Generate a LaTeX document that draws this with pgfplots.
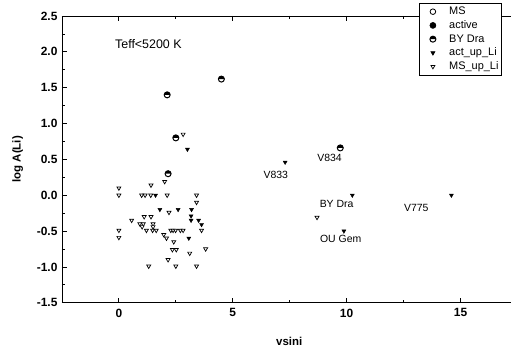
\documentclass[border=0pt]{standalone}
\usepackage{fontspec}
\setmainfont{Liberation Sans}
\usepackage{pgfplots}
\pgfplotsset{compat=1.18}
\pgfdeclareplotmark{halfo}{%
  \pgfpathmoveto{\pgfqpoint{\pgfplotmarksize}{0pt}}%
  \pgfpatharc{0}{180}{\pgfplotmarksize}%
  \pgfpathclose
  \pgfusepathqfill
  \pgfpathcircle{\pgfpointorigin}{\pgfplotmarksize}%
  \pgfusepathqstroke
}
\begin{document}
\begin{tikzpicture}
\begin{axis}[
  scale only axis,
  width=449bp, height=287bp,
  xmin=-2.5, xmax=17.2, ymin=-1.5, ymax=2.5,
  axis x line*=box, axis y line*=left,
  axis line style={line width=0.8bp},
  every tick/.style={line width=0.8bp, black},
  tick align=inside,
  major tick length=5bp, minor tick length=3bp,
  xtick={0,5,10,15}, minor x tick num=1,
  ytick={-1.5,-1,-0.5,0,0.5,1,1.5,2,2.5}, minor y tick num=1,
  xticklabel pos=lower,
  /pgf/number format/assume math mode=true,
  ticklabel style={font=\fontsize{12}{14}\selectfont\bfseries},
  xticklabel style={yshift=-2.5bp},
  yticklabel style={xshift=-1bp, /pgf/number format/.cd, fixed, fixed zerofill, precision=1},
  xlabel={\bfseries vsini}, ylabel={\bfseries log A(Li)},
  label style={font=\fontsize{11.5}{13}\selectfont},
  xlabel style={yshift=-13bp, xshift=3bp},
  ylabel style={yshift=7bp},
  clip=false,
  legend image code/.code={%
    \path[draw=none, fill=none] (0bp,0bp) (22bp,0bp);
    \draw[#1] plot coordinates {(11bp,0bp)};},
  legend style={at={(0.795,1.045)}, anchor=north west, draw=black, line width=0.6bp,
    font=\fontsize{11}{12}\selectfont, inner xsep=3bp, inner ysep=2.8bp,
    row sep=2.75bp,
    nodes={inner sep=0pt, text height=8.5bp, text depth=2.5bp},
    /tikz/every odd column/.append style={column sep=5.3bp}},
  legend cell align=left,
]
\addlegendimage{only marks, mark=o, mark size=2.8bp, line width=0.8bp, black}
\addlegendentry{MS}
\addlegendimage{only marks, mark=*, mark size=3bp, black}
\addlegendentry{active}
\addlegendimage{only marks, mark=halfo, mark size=3bp, line width=1bp, black}
\addlegendentry{BY Dra}
\addlegendimage{only marks, mark=triangle*, mark size=2.3bp, mark options={rotate=180}, black}
\addlegendentry{act\_up\_Li}
\addlegendimage{only marks, mark=triangle*, mark size=2.3bp, mark options={rotate=180, fill=white, line width=0.7bp}, black}
\addlegendentry{MS\_up\_Li}

% MS_up_Li (open down triangles)
\addplot[only marks, mark=triangle*, mark size=2.3bp, mark options={rotate=180, fill=white, draw=black, line width=0.7bp}, forget plot] coordinates {
(0,0.1) (0,0) (0,-0.49) (0,-0.59) (1.41,0.14) (1.0,0) (1.15,0) (1.4,0)
(2.12,0) (2.01,0.19) (3.41,0) (3.41,-0.1) (2.2,-0.24) (0.56,-0.35)
(1.11,-0.3) (1.41,-0.3) (0.92,-0.4) (1.07,-0.4) (1.02,-0.44) (1.5,-0.4)
(1.5,-0.44) (1.21,-0.49) (1.48,-0.49) (1.64,-0.49) (1.97,-0.55) (2.09,-0.6)
(2.28,-0.49) (2.38,-0.49) (2.49,-0.49) (2.7,-0.49) (2.82,-0.49) (2.41,-0.65)
(3.63,-0.49) (2.35,-0.76) (2.52,-0.76) (3.11,-0.81) (3.81,-0.75) (2.16,-0.9)
(1.31,-0.99) (2.5,-0.99) (3.41,-0.99) (2.82,0.85) (8.7,-0.31)
};
% act_up_Li (filled down triangles)
\addplot[only marks, mark=triangle*, mark size=2.3bp, mark options={rotate=180, fill=black, draw=black}, forget plot] coordinates {
(1.61,0) (3.01,0.64) (7.3,0.46) (1.8,-0.2) (2.6,-0.2) (3.19,-0.2)
(3.17,-0.29) (3.17,-0.35) (3.5,-0.35) (3.63,-0.41) (3.07,-0.6)
(10.25,0) (9.88,-0.5) (14.6,0)
};
% BY Dra (half-filled circles)
\addplot[only marks, mark=halfo, mark size=3bp, mark options={line width=1bp, draw=black, fill=black}, forget plot] coordinates {
(2.12,1.4) (4.5,1.62) (2.5,0.8) (2.16,0.3) (9.72,0.66)
};

\node[anchor=west, font=\fontsize{12.5}{14}\selectfont] at (axis cs:-0.32,2.11) {Teff<5200 K};
\node[font=\fontsize{10.5}{12}\selectfont] at (axis cs:6.89,0.29) {V833};
\node[font=\fontsize{10.5}{12}\selectfont] at (axis cs:9.25,0.52) {V834};
\node[font=\fontsize{10.5}{12}\selectfont] at (axis cs:9.56,-0.125) {BY Dra};
\node[font=\fontsize{10.5}{12}\selectfont] at (axis cs:9.74,-0.61) {OU Gem};
\node[font=\fontsize{10.5}{12}\selectfont] at (axis cs:13.06,-0.18) {V775};
\end{axis}
\path ([xshift=-62bp,yshift=16bp]current axis.north west) rectangle ([yshift=-48bp]current axis.south east);
\end{tikzpicture}
\end{document}
